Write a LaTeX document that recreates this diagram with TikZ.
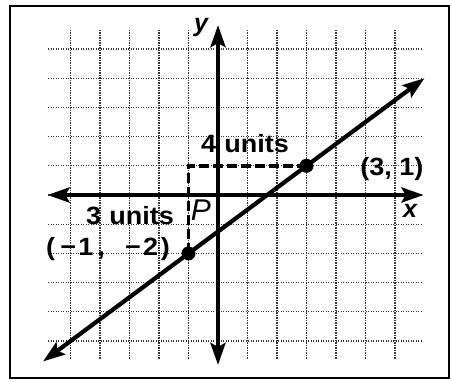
\documentclass[tikz,border=0pt]{standalone}
\usepackage{fontspec}
\setmainfont{Liberation Sans}
\usetikzlibrary{arrows.meta}
\begin{document}
\begin{tikzpicture}[x=1pt,y=1pt,
  gridline/.style={line width=1.1pt, black!80, dash pattern=on 1.1pt off 1.4pt},
  axisline/.style={line width=4.2pt, {Stealth[length=22pt,width=15pt,inset=4pt]}-{Stealth[length=22pt,width=15pt,inset=4pt]}},
  runline/.style={line width=3.6pt, dash pattern=on 10pt off 4pt},
  dot/.style={circle, fill=black, inner sep=0pt, minimum size=14pt},
  lbl/.style={font=\bfseries\fontsize{25}{25}\selectfont, inner sep=0pt, xscale=1.08},
  axlbl/.style={font=\bfseries\itshape\fontsize{25}{25}\selectfont, inner sep=0pt},
  plbl/.style={font=\itshape\fontsize{30}{30}\selectfont, inner sep=0pt}]
\useasboundingbox (0,0) rectangle (452,-381);
\draw[line width=2.5pt] (10,-6) rectangle (449,-378);
\begin{scope}[shift={(218,-195)}, x=29.5pt, y=29.2pt]
  \foreach \i in {-5,...,6} \draw[gridline] (\i,-5.6) -- (\i,5.7);
  \foreach \j in {-5,...,5} \draw[gridline] (-5.75,\j) -- (6.95,\j);
  \coordinate (xl) at (-5.78,0);
  \coordinate (xr) at (6.97,0);
  \coordinate (yt) at (0,5.82);
  \coordinate (yb) at (0,-5.82);
  \coordinate (ll) at (-5.93,-5.70);
  \coordinate (ur) at (7.0,4.0);
  \coordinate (A) at (-1,-2);
  \coordinate (B) at (3,1);
  \coordinate (C) at (-1,1);
  \draw[axisline] (xl) -- (xr);
  \draw[axisline] (yb) -- (yt);
  \draw[runline] (A) -- (C) -- (B);
  \draw[axisline] (ll) -- (ur);
  \node[dot] (pA) at (A) {};
  \node[dot] (pB) at (B) {};
\end{scope}
\node[lbl] (four) at (245,-144) {4\hspace{0.3em}units};
\node[lbl] (three) at (130,-216) {3\hspace{0.3em}units};
\node[lbl] (q31) at (392,-169) {(3, 1)};
\node[lbl] (qm12) at (108,-249) {(\hspace{0.2em}−\hspace{0.08em}1\hspace{0.15em},\hspace{0.75em}−\hspace{0.08em}2\hspace{0.1em})};
\node[axlbl] (ylab) at (201,-27) {y};
\node[axlbl] (xlab) at (410,-211) {x};
\node[plbl] (plab) at (201,-210) {P};
\end{tikzpicture}
\end{document}
